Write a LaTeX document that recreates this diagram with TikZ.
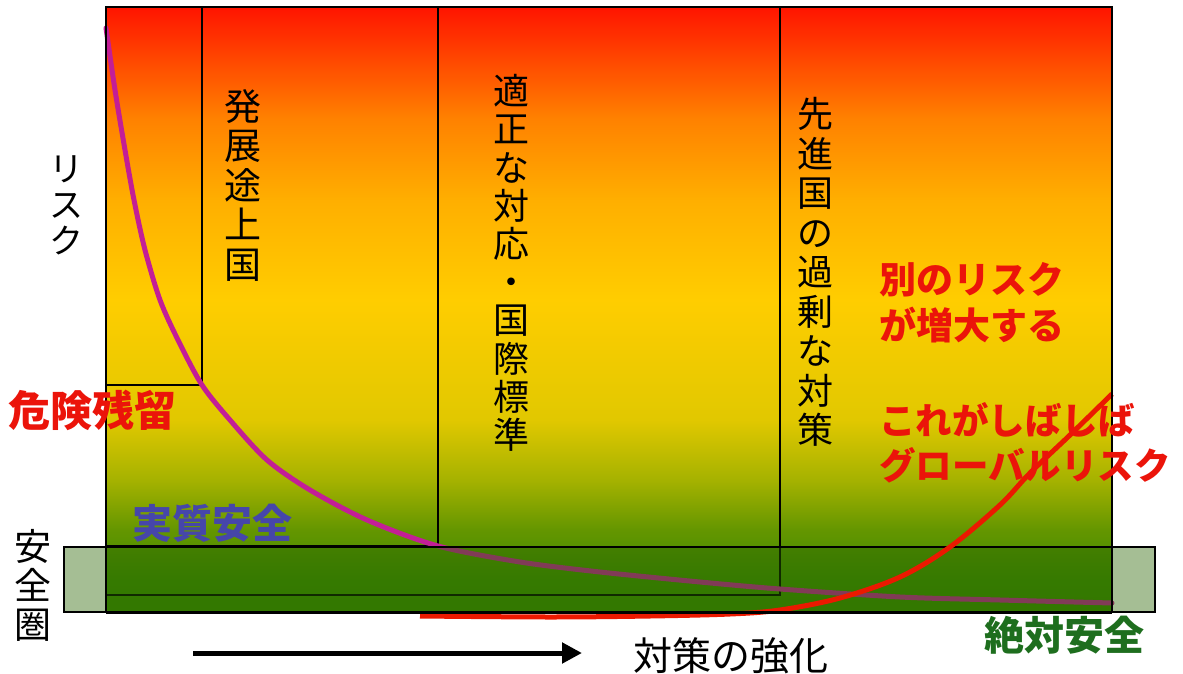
\documentclass[tikz,border=0pt]{standalone}
\usepackage{fontspec}
\setmainfont{Noto Sans CJK JP}
\usetikzlibrary{arrows.meta}
\definecolor{g0}{RGB}{58,135,0}
\definecolor{g1}{RGB}{64,138,0}
\definecolor{g2}{RGB}{100,150,0}
\definecolor{g3}{RGB}{165,178,0}
\definecolor{g4}{RGB}{225,200,0}
\definecolor{g5}{RGB}{255,205,0}
\definecolor{g6}{RGB}{255,175,0}
\definecolor{g7}{RGB}{255,130,0}
\definecolor{g8}{RGB}{255,20,0}
\definecolor{magcurve}{RGB}{195,30,150}
\definecolor{redcurve}{RGB}{235,25,0}
\definecolor{redtext}{RGB}{235,20,10}
\definecolor{bluetext}{RGB}{70,70,170}
\definecolor{greentext}{RGB}{30,110,30}
\definecolor{bandgreen}{RGB}{40,100,0}
\pgfdeclareverticalshading{riskgrad}{100bp}{color(0bp)=(g0); color(25bp)=(g0); color(27.6bp)=(g1); color(31.8bp)=(g2); color(35.9bp)=(g3); color(40.9bp)=(g4); color(50.8bp)=(g5); color(59bp)=(g6); color(65.7bp)=(g7); color(75bp)=(g8); color(100bp)=(g8)}
\tikzset{
  boxline/.style={draw=black, line width=1.2pt},
  vlabel/.style={inner sep=0pt, align=center, text=black, font=\fontsize{37}{39.5}\selectfont},
  redlabel/.style={inner sep=0pt, align=left, text=redtext, font=\fontsize{37}{46}\selectfont\bfseries},
  biglabel/.style={inner sep=0pt, font=\fontsize{40}{44}\selectfont\bfseries},
}
\begin{document}
\begin{tikzpicture}[x=1pt,y=-1pt]
\useasboundingbox (0,0) rectangle (1183,674);
% gradient area
\shade[shading=riskgrad] (106,7) rectangle (1112,612);
% nested rectangles
\draw[boxline] (106,7) rectangle (202,385);
\draw[boxline] (106,7) rectangle (438,546);
\draw[boxline] (106,7) rectangle (780,595);
% risk curve
\draw[magcurve, line width=5pt, line cap=round] plot[smooth, tension=0.5] coordinates {
 (106,28) (115,90) (125,150) (134,200) (145,250) (160,300) (178,340) (202,385)
 (230,420) (267,460) (310,490) (367,520) (438,546) (520,562) (600,572) (700,582)
 (780,589) (900,597) (1000,600) (1112,603)};
% safety band
\fill[bandgreen, opacity=0.42] (64,547) rectangle (1155,612);
\draw[black, line width=1.2pt] (64,547) rectangle (1155,612);
% other-risk curve
\draw[redcurve, line width=5pt] plot[smooth, tension=0.55] coordinates {
 (420,616) (550,617) (650,616) (730,614) (780,610) (840,598) (900,577) (950,547)
 (1000,505) (1030,473) (1070,435) (1112,394)};
% main box outline
\draw[black, line width=1.2pt] (106,612) -- (106,7) -- (1112,7) -- (1112,612);
\draw[black, line width=3pt] (106,612) -- (1112,612);
% vertical labels
\node[vlabel] (dev) at (243,185) {発\\展\\途\\上\\国};
\node[vlabel, font=\fontsize{36}{38.2}\selectfont] (std) at (511,263) {適\\正\\な\\対\\応\\・\\国\\際\\標\\準};
\node[vlabel, font=\fontsize{36}{39.5}\selectfont] (adv) at (815,272) {先\\進\\国\\の\\過\\剰\\な\\対\\策};
\node[vlabel, font=\fontsize{34}{36}\selectfont] (risk) at (66,205) {リ\\ス\\ク};
\node[vlabel, font=\fontsize{37}{39}\selectfont] (zone) at (33,585) {安\\全\\圏};
% colored labels
\node[biglabel, text=redtext, font=\fontsize{42}{44}\selectfont\bfseries] (residual) at (93,410) {危険残留};
\node[biglabel, text=bluetext] (practical) at (212,523) {実質安全};
\node[biglabel, text=greentext] (absolute) at (1064,635) {絶対安全};
\node[redlabel, anchor=north west] (other) at (879,262) {別のリスク\\が増大する};
\node[redlabel, anchor=north west, font=\fontsize{36.5}{45}\selectfont\bfseries] (global) at (879,402) {これがしばしば\\グローバルリスク};
% axis arrow
\coordinate (arrS) at (193,653);
\coordinate (arrE) at (582,653);
\draw[black, line width=5pt, -{Triangle[length=20pt,width=20pt]}] (arrS) -- (arrE);
\node[inner sep=0pt, font=\fontsize{39}{40}\selectfont] (stronger) at (731,656) {対策の強化};
\end{tikzpicture}
\end{document}
